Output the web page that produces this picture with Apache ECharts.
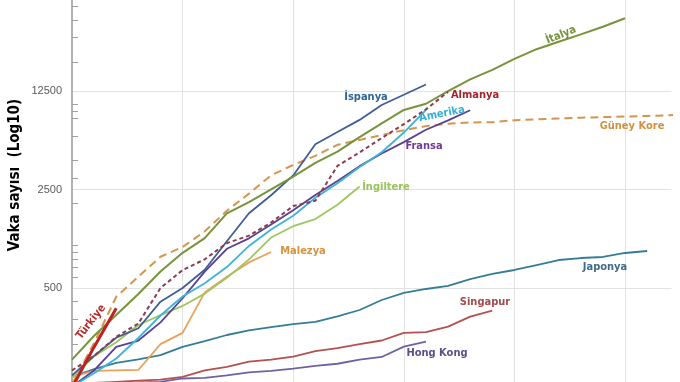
<!DOCTYPE html>
<html><head><meta charset="utf-8">
<script src="https://cdn.jsdelivr.net/npm/echarts@6/dist/echarts.min.js"></script>
<style>html,body{margin:0;padding:0;background:#fff}#c{width:680px;height:382px}</style>
</head><body><div id="c"></div>
<script>
// Cases since ~100th case, by day (index = day)
const italy = [155, 229, 322, 453, 655, 888, 1128, 1694, 2036, 2502, 3089, 3858, 4636, 5883, 7375, 9172, 10149, 12462, 15113, 17660, 21157, 24747, 27980, 31506, 35713, 41035];
const korea = [104, 204, 433, 602, 833, 977, 1261, 1766, 2337, 3150, 3736, 4335, 5186, 5621, 6088, 6593, 7041, 7314, 7478, 7513, 7755, 7869, 7979, 8086, 8162, 8236, 8320, 8413, 8565];
const spain = [120, 165, 222, 259, 400, 500, 673, 1073, 1695, 2277, 3146, 5232, 6391, 7798, 9942, 11748, 13910];
const germany = [130, 165, 225, 280, 500, 670, 799, 1040, 1176, 1457, 1908, 2078, 3675, 4585, 5795, 7272, 9257, 12327];
const usa = [100, 124, 158, 221, 319, 435, 541, 704, 994, 1301, 1630, 2183, 2770, 3613, 4596, 6344, 9197];
const france = [100, 130, 191, 212, 285, 423, 653, 949, 1126, 1412, 1784, 2281, 2876, 3661, 4499, 5423, 6633, 7730, 9134];
const uk = [115, 164, 206, 273, 321, 373, 456, 590, 798, 1140, 1372, 1543, 1950, 2626];
const malaysia = [117, 129, 130, 131, 200, 240, 465, 600, 760, 900];
const japan = [117, 133, 147, 156, 167, 191, 210, 232, 250, 264, 277, 287, 315, 349, 411, 461, 492, 517, 579, 630, 671, 728, 790, 816, 830, 886, 915];
const singapore = [102, 106, 108, 110, 112, 117, 130, 138, 150, 155, 163, 178, 187, 200, 212, 240, 243, 266, 313, 345];
const hongkong = [100, 105, 105, 107, 108, 114, 115, 120, 126, 129, 134, 140, 145, 155, 162, 192, 208];
const turkey = [98, 191, 359];

const yTickLabels = ['100', '500', '2500', '12500', '62500'];
const yMinorTicks = [200, 300, 400, 600, 700, 800, 900, 1000, 2000, 3000, 4000, 6000, 8000, 9000, 10000, 20000, 30000, 40000, 50000];

const FONT = "'Liberation Sans Narrow','DejaVu Sans Condensed','Liberation Sans',sans-serif";
const pairs = arr => arr.map((v, i) => [i, v]);
const toU = v => Math.log(v / 100) / Math.log(5);

function line(name, data, color, width, type, z) {
  return {
    name, type: 'line', yAxisIndex: 0, data: pairs(data), symbol: 'none', showSymbol: false,
    lineStyle: { color, width, type: type || 'solid', cap: 'butt' }, z: z || 2, clip: true
  };
}

const labels = [
  { t: 'İtalya', x: 561, y: 35, c: '#77903C', r: 22 },
  { t: 'İspanya', x: 366, y: 97, c: '#2E6696' },
  { t: 'Almanya', x: 475, y: 95, c: '#A3242B' },
  { t: 'Amerika', x: 442, y: 114, c: '#36B0D2', r: 11 },
  { t: 'Fransa', x: 424, y: 146, c: '#6E3A96' },
  { t: 'Güney Kore', x: 632, y: 126, c: '#D0913F' },
  { t: 'İngiltere', x: 386, y: 187, c: '#98C25A' },
  { t: 'Malezya', x: 303, y: 251, c: '#D8913F' },
  { t: 'Japonya', x: 605, y: 267, c: '#3E6B8C' },
  { t: 'Singapur', x: 485, y: 302, c: '#A34A4C' },
  { t: 'Hong Kong', x: 437, y: 353, c: '#5B4E8C' },
  { t: 'Türkiye', x: 91, y: 322, c: '#B22A2A', r: 52 }
];

const chart = echarts.init(document.getElementById('c'), null, { renderer: 'canvas' });
chart.setOption({
  animation: false,
  backgroundColor: '#fff',
  grid: { left: 72, right: 8.5, top: -7.5, bottom: -4.5, containLabel: false, outerBoundsMode: 'none' },
  xAxis: {
    type: 'value', min: 0, max: 27.1, interval: 5,
    axisLine: { show: false }, axisTick: { show: false }, axisLabel: { show: false },
    splitLine: { show: true, showMinLine: false, showMaxLine: false, lineStyle: { color: '#e2e2e2', width: 1 } }
  },
  yAxis: [
    { type: 'log', logBase: 10, min: 100, max: 62500, show: false },
    {
      type: 'value', min: 0, max: 4, interval: 1, position: 'left',
      axisLine: { show: true, lineStyle: { color: '#9a9a9a', width: 1.5 } },
      axisTick: { show: false },
      axisLabel: { show: true, margin: 10, color: '#595959', fontSize: 11, fontFamily: "'Liberation Sans',sans-serif",
        formatter: v => yTickLabels[Math.round(v)] },
      splitLine: { show: true, lineStyle: { color: '#e2e2e2', width: 1 } }
    },
    {
      type: 'value', min: 0, max: 4, position: 'left',
      axisLine: { show: false },
      axisTick: { show: true, inside: true, length: 6, customValues: yMinorTicks.map(toU), lineStyle: { color: '#a0a0a0', width: 1 } },
      axisLabel: { show: false },
      splitLine: { show: false }
    }
  ],
  series: [
    line('Güney Kore', korea, '#D4964F', 2, [8, 5], 2),
    line('Japonya', japan, '#357D97', 1.8),
    line('Singapur', singapore, '#B5504F', 1.8),
    line('Hong Kong', hongkong, '#6F62A3', 1.8),
    line('Malezya', malaysia, '#E8A25A', 1.8),
    line('İngiltere', uk, '#9DC75F', 1.8),
    line('Fransa', france, '#5B3F91', 1.8),
    line('Amerika', usa, '#3DB4D6', 1.8, 'solid', 3),
    line('İspanya', spain, '#3F5E94', 1.8),
    line('Almanya', germany, '#8E3B4F', 2, [4, 3], 3),
    line('İtalya', italy, '#77933C', 2),
    line('Türkiye', turkey, '#C0201F', 3, 'solid', 4)
  ],
  graphic: [
    { type: 'text', x: 15, y: 175, rotation: Math.PI / 2,
      style: { text: 'Vaka sayısı  (Log10)', fill: '#000', font: "bold 15px " + FONT, align: 'center', verticalAlign: 'middle' } }
  ].concat(labels.map(l => ({
    type: 'text', x: l.x, y: l.y, rotation: (l.r || 0) * Math.PI / 180, z: 10,
    style: { text: l.t, fill: l.c, font: "bold 11px " + FONT, align: 'center', verticalAlign: 'middle' }
  })))
});
</script></body></html>
